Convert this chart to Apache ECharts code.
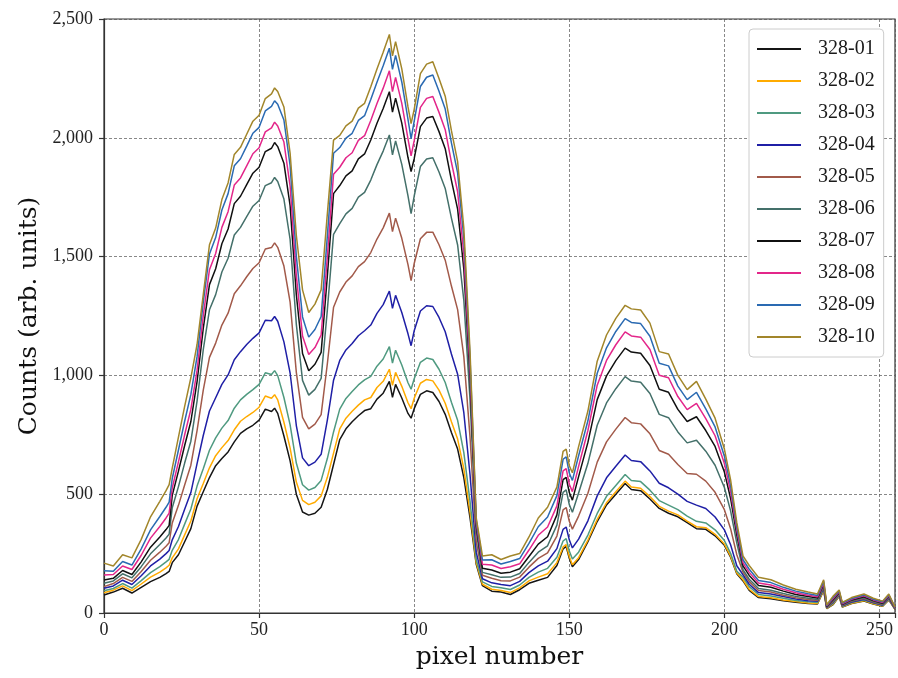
<!DOCTYPE html>
<html>
<head>
<meta charset="utf-8">
<script src="https://cdn.jsdelivr.net/npm/echarts@6/dist/echarts.min.js"></script>
<style>html,body{margin:0;padding:0;background:#fff}#c{width:898px;height:678px}</style>
</head>
<body>
<div id="c"></div>
<script>
const pixels = [0,3,6,9,12,15,18,20,21,22,24,26,28,30,32,34,36,38,40,42,44,46,48,50,52,54,55,56,58,60,62,64,66,68,70,72,74,76,78,80,82,84,86,88,90,92,93,94,96,98,99,100,102,104,106,108,110,112,114,116,118,120,122,125,128,131,134,137,140,143,146,148,149,150,151,153,156,159,162,165,168,170,173,176,179,182,185,188,191,194,197,200,202,204,206,208,211,215,219,223,227,230,232,233,235,237,238,241,245,248,251,253,255];

const s01 = [76,88,104,84,108,132,150,166,175,212, 245,300,355,450,510,570,620,650,678,720, 756,775,790,812,858,848,862,840,745,640, 500,425,412,420,445,520,625,730,775,805, 830,852,860,900,925,975,908,962,905,840, 820,860,920,935,928,890,836,760,690,570, 400,205,115,92,88,78,98,125,138,150, 200,270,280,230,195,225,300,385,455,500, 545,520,515,480,440,420,405,380,355,352, 325,285,235,165,135,95,65,60,52,45, 40,38,95,18,35,70,25,40,50,38, 28,55,15];
const s02 = [85,96,114,94,122,151,172,190,201,232, 270,329,387,481,545,611,662,696,726,771, 807,827,844,866,913,904,919,897,803,694, 551,474,456,466,493,571,673,775,820,849, 875,897,907,949,975,1026,958,1013,954,885, 860,904,967,983,977,938,883,805,732,607, 425,212,121,100,95,86,106,135,151,165, 212,278,288,238,203,233,307,394,464,510, 555,530,525,490,449,429,413,387,363,359, 331,290,239,168,140,100,69,64,55,48, 42,40,97,19,37,71,26,41,52,39, 29,56,16];
const s03 = [94,103,124,105,136,170,195,215,226,264, 309,374,438,534,607,685,737,778,810,862, 897,920,940,962,1011,1004,1020,999,907,792, 631,540,517,528,558,650,762,858,903,932, 960,981,996,1039,1069,1121,1052,1106,1044,969, 942,986,1055,1073,1067,1026,970,887,811,675, 470,225,131,112,106,99,118,150,172,188, 235,303,313,261,227,256,328,419,491,537, 583,558,553,517,473,454,435,408,386,379, 350,305,251,176,151,111,78,72,62,53, 47,44,102,21,40,74,28,44,55,42, 31,59,17];
const s04 = [104,114,138,120,157,198,227,250,263,308, 364,437,507,629,747,850,906,962,1002,1066, 1100,1130,1156,1179,1232,1230,1248,1228,1141,1010, 789,653,620,635,668,812,980,1063,1107,1134, 1167,1188,1212,1261,1298,1355,1282,1337,1265,1175, 1125,1188,1271,1293,1290,1244,1184,1090,1005,843, 582,256,144,127,120,115,133,170,198,218, 271,352,362,308,274,311,388,493,569,618, 665,642,637,598,546,527,500,470,454,440, 404,350,287,199,161,121,86,80,69,59, 52,49,106,22,44,77,30,46,58,44, 34,61,18];
const s05 = [111,124,150,133,175,222,256,281,296,379, 453,539,622,768,938,1076,1136,1212,1262,1344, 1377,1415,1450,1474,1532,1538,1558,1539,1460,1308, 1013,823,775,795,835,1049,1287,1351,1393,1419, 1458,1479,1517,1574,1621,1683,1605,1662,1577,1466, 1399,1471,1575,1602,1603,1550,1485,1376,1277,1079, 740,300,159,146,136,135,151,193,230,253, 324,434,444,386,353,408,504,635,720,774, 823,801,796,754,684,668,625,587,584,555, 508,435,355,245,172,132,95,88,75,64, 57,53,111,24,47,79,32,49,61,46, 36,64,19];
const s06 = [125,135,165,148,195,249,288,316,332,443, 532,631,723,892,1108,1276,1340,1435,1493,1591, 1623,1668,1712,1736,1799,1811,1833,1816,1742,1572, 1215,979,917,941,987,1275,1594,1639,1680,1703, 1750,1770,1822,1887,1944,2012,1928,1987,1888,1756, 1681,1755,1879,1911,1916,1856,1787,1662,1549,1316, 897,344,171,161,150,151,166,213,256,283, 370,508,518,456,424,505,630,790,884,944, 995,976,971,924,836,822,762,716,727,681, 622,528,430,294,182,142,103,96,82,70, 62,57,115,26,51,82,34,51,64,49, 38,66,20];
const s07 = [139,146,179,162,215,277,320,351,369,495, 597,705,806,974,1198,1382,1449,1554,1616,1723, 1754,1803,1851,1876,1942,1956,1980,1963,1893,1714, 1340,1092,1020,1047,1097,1418,1765,1799,1840,1861, 1911,1932,1991,2061,2123,2194,2108,2167,2062,1917, 1858,1912,2047,2083,2090,2026,1954,1821,1700,1447, 985,368,188,181,167,172,186,238,290,321, 413,561,571,507,475,574,718,898,998,1062, 1115,1098,1093,1042,942,929,857,806,826,768, 701,593,482,328,198,158,116,108,92,78, 69,63,122,28,56,86,37,55,68,52, 41,70,21];
const s08 = [160,162,198,183,243,315,364,400,420,526, 636,750,857,1021,1251,1445,1513,1623,1689,1801, 1831,1882,1933,1958,2025,2042,2066,2050,1982,1796, 1419,1166,1088,1117,1170,1499,1847,1876,1916,1937, 1989,2009,2073,2144,2209,2282,2194,2254,2145,1995, 1924,1988,2128,2166,2174,2107,2034,1897,1773,1510, 1027,380,205,202,187,195,207,265,327,362, 451,598,608,542,511,617,768,959,1063,1129, 1183,1166,1161,1109,1001,990,911,856,882,818, 746,629,511,348,211,171,126,118,100,85, 75,68,127,30,60,89,39,58,72,55, 44,73,22];
const s09 = [178,176,217,202,270,350,406,445,467,566, 686,807,920,1079,1307,1511,1580,1696,1765,1882, 1912,1965,2019,2044,2113,2132,2156,2141,2075,1883, 1502,1246,1161,1193,1248,1586,1935,1959,1999,2019, 2073,2093,2161,2234,2303,2377,2288,2347,2235,2078, 1996,2070,2216,2255,2264,2196,2121,1979,1852,1578, 1072,392,223,224,206,217,229,293,363,404, 494,647,657,589,558,662,809,1009,1116,1185, 1239,1223,1218,1165,1051,1040,955,898,929,859, 783,660,536,364,224,184,137,128,108,92, 81,74,133,32,65,93,42,61,76,58, 47,76,24];
const s10 = [210,198,245,232,310,405,470,515,540,610, 740,870,990,1130,1340,1550,1620,1740,1810,1930, 1960,2015,2070,2095,2165,2185,2210,2195,2130,1935, 1590,1360,1265,1300,1360,1680,1990,2010,2050,2070, 2125,2145,2215,2290,2360,2435,2345,2405,2290,2130, 2060,2120,2270,2310,2320,2250,2175,2030,1900,1620, 1100,400,240,245,225,240,250,320,400,445, 530,680,690,620,590,700,850,1060,1170,1240, 1295,1280,1275,1220,1100,1090,1000,940,975,900, 820,690,560,380,240,200,150,140,118,100, 88,80,140,35,70,97,45,65,80,62, 50,80,25];

const seriesNames = ['328-01','328-02','328-03','328-04','328-05','328-06','328-07','328-08','328-09','328-10'];
const seriesValues = [s01,s02,s03,s04,s05,s06,s07,s08,s09,s10];
const colors = ['#151515','#ffab00','#4f9a80','#1f1fa6','#a25a4a','#44706a','#101010','#e3268a','#2a6ab2','#a2862a'];
const xTicks = [0,50,100,150,200,250];
const yTicks = [0,500,1000,1500,2000,2500];

const chart = echarts.init(document.getElementById('c'), null, {renderer:'canvas'});
const numFont = 'Liberation Serif';
const titleFont = 'DejaVu Serif';
chart.setOption({
  animation:false,
  backgroundColor:'#fff',
  color: colors,
  grid:{left:104, top:19, width:793, height:594, show:true, borderColor:'#333', borderWidth:1.2, backgroundColor:'transparent'},
  xAxis:{
    type:'value', min:0, max:255, interval:50,
    name:'pixel number', nameLocation:'middle', nameGap:32,
    nameTextStyle:{fontFamily:titleFont, fontSize:25, color:'#111'},
    axisLine:{show:true, lineStyle:{color:'#333', width:1.2}},
    axisTick:{show:true, length:5, lineStyle:{color:'#333', width:1.2}},
    axisLabel:{fontFamily:numFont, fontSize:18, color:'#222', margin:8,
      formatter:v=> xTicks.includes(v) ? String(v) : ''},
    splitLine:{show:true, lineStyle:{color:'#555', width:0.7, type:[3,2]}}
  },
  yAxis:{
    type:'value', min:0, max:2500, interval:500,
    name:'Counts (arb. units)', nameLocation:'middle', nameGap:58,
    nameTextStyle:{fontFamily:titleFont, fontSize:25, color:'#111'},
    axisLine:{show:true, lineStyle:{color:'#333', width:1.2}},
    axisTick:{show:true, length:5, lineStyle:{color:'#333', width:1.2}},
    axisLabel:{fontFamily:numFont, fontSize:18, color:'#222', margin:11,
      formatter:v=> yTicks.includes(v) ? v.toLocaleString('en-US') : ''},
    splitLine:{show:true, lineStyle:{color:'#555', width:0.7, type:[3,2]}}
  },
  legend:{
    orient:'vertical', left:749, top:29,
    backgroundColor:'#fff', borderColor:'#ccc', borderWidth:1, borderRadius:4,
    padding:[10,9,10,8], itemWidth:44, itemHeight:2, itemGap:12, icon:'rect',
    textStyle:{fontFamily:numFont, fontSize:20, color:'#1a1a1a', lineHeight:20, padding:[0,0,0,12]},
    data: seriesNames
  },
  series: seriesNames.map((n,i)=>({
    name:n, type:'line', showSymbol:false, symbol:'none',
    lineStyle:{width:1.5, color:colors[i]}, itemStyle:{color:colors[i]},
    data: pixels.map((p,j)=>[p, seriesValues[i][j]])
  }))
});
</script>
</body>
</html>
